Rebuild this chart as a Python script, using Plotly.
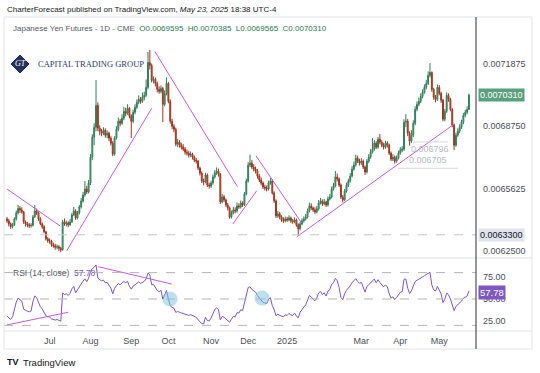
import plotly.graph_objects as go
import pandas as pd

# ---------------- data (prices in units of 1e-6, e.g. 6400 -> 0.006400) ----------------
SCALE = 1e-6
lead_closes = [6500, 6470, 6485, 6455, 6440, 6460, 6450, 6425, 6440, 6435, 6410, 6420, 6430, 6405, 6415, 6410]
first_open = 6410
closes = [
 6400,6385,6372,6380,6410,6440,6462,6455,6445,6395,
 6385,6380,6375,6378,6420,6450,6440,6410,6385,6370,
 6345,6310,6300,6298,6280,6275,6268,6270,6262,6255,
 6395,6385,6390,6380,6395,6430,6450,6415,6440,6470,
 6500,6530,6560,6545,6590,6720,6820,6870,6980,6865,
 6850,6840,6855,6830,6840,6815,6790,6735,6815,6860,
 6900,6890,6915,6950,6940,6965,6925,6900,6945,6970,
 6995,7010,7000,7020,7030,7070,7195,7180,7105,7110,
 7090,7060,7050,7065,6985,7040,7090,7000,6900,6875,
 6860,6785,6795,6780,6770,6760,6745,6740,6730,6735,
 6720,6705,6700,6665,6640,6600,6595,6630,6580,6575,
 6590,6620,6640,6650,6635,6495,6520,6505,6480,6465,
 6420,6440,6455,6450,6475,6470,6490,6480,6535,6600,
 6680,6690,6670,6660,6650,6625,6605,6590,6570,6565,
 6560,6590,6600,6540,6500,6425,6435,6420,6405,6400,
 6410,6405,6415,6400,6395,6405,6380,6360,6385,6400,
 6410,6420,6450,6475,6465,6455,6445,6460,6490,6500,
 6485,6495,6480,6510,6520,6560,6575,6620,6610,6580,
 6520,6505,6550,6580,6600,6625,6660,6680,6715,6700,
 6690,6700,6670,6645,6700,6720,6745,6760,6790,6770,
 6810,6795,6780,6770,6790,6780,6740,6710,6720,6700,
 6715,6740,6755,6760,6895,6900,6840,6800,6830,6890,
 6960,6985,7000,7025,7045,7070,7090,7130,7145,7060,
 7020,7010,7070,7040,7005,6910,6950,7030,7010,6960,
 6880,6780,6830,6850,6870,6895,6930,6945,6959.5,7031]
highs = [
 6420,6410,6392,6390,6418,6452,6480,6475,6468,6450,
 6402,6395,6390,6388,6430,6478,6462,6448,6418,6392,
 6378,6350,6318,6312,6305,6290,6285,6282,6278,6270,
 6405,6412,6402,6398,6410,6440,6470,6458,6450,6480,
 6515,6545,6600,6575,6605,6735,6835,6890,7107,6995,
 6880,6862,6870,6865,6855,6848,6825,6800,6825,6875,
 6918,6912,6935,6972,6968,6985,6972,6935,6958,6985,
 7010,7030,7022,7045,7048,7110,7248,7258,7190,7125,
 7120,7098,7075,7080,7072,7055,7120,7098,7010,6912,
 6885,6868,6812,6805,6792,6785,6770,6758,6752,6748,
 6742,6728,6715,6705,6672,6648,6612,6642,6638,6592,
 6602,6632,6655,6668,6662,6640,6535,6530,6512,6490,
 6472,6452,6470,6468,6492,6488,6502,6498,6545,6612,
 6695,6732,6705,6685,6672,6660,6635,6618,6598,6582,
 6578,6602,6615,6608,6548,6508,6450,6445,6428,6418,
 6422,6420,6428,6422,6410,6418,6412,6388,6395,6412,
 6422,6435,6462,6492,6488,6472,6468,6475,6505,6515,
 6508,6510,6502,6522,6535,6572,6590,6650,6638,6618,
 6588,6530,6560,6592,6612,6640,6675,6698,6732,6728,
 6712,6715,6708,6678,6710,6735,6760,6816,6805,6800,
 6822,6836,6805,6792,6802,6800,6788,6748,6735,6728,
 6728,6752,6770,6775,6910,6935,6912,6850,6855,6905,
 6975,7000,7018,7040,7060,7085,7108,7150,7192,7150,
 7068,7032,7085,7082,7048,7012,6962,7045,7040,7018,
 6965,6888,6842,6865,6885,6908,6942,6958,6975,7038.5]
lows = [
 6390,6372,6360,6362,6375,6402,6432,6440,6436,6385,
 6372,6368,6365,6366,6372,6415,6430,6400,6378,6360,
 6338,6302,6290,6285,6270,6265,6255,6258,6250,6243,
 6250,6375,6372,6368,6375,6390,6425,6405,6408,6432,
 6462,6492,6522,6535,6538,6580,6705,6780,6850,6850,
 6830,6825,6830,6818,6815,6800,6778,6725,6728,6808,
 6850,6875,6882,6905,6925,6932,6915,6816,6890,6935,
 6960,6985,6988,6992,7005,7022,7060,7160,7095,7090,
 7075,7045,7038,7040,6896,6975,7030,6990,6888,6860,
 6845,6775,6770,6768,6758,6750,6732,6728,6718,6720,
 6708,6695,6688,6655,6628,6590,6578,6588,6570,6562,
 6565,6582,6612,6630,6622,6485,6488,6495,6470,6452,
 6410,6412,6432,6438,6442,6460,6462,6470,6475,6528,
 6592,6670,6660,6648,6638,6612,6595,6578,6560,6552,
 6548,6552,6582,6532,6490,6415,6415,6408,6395,6390,
 6392,6395,6398,6390,6385,6388,6370,6330,6352,6378,
 6392,6402,6412,6442,6455,6445,6435,6438,6452,6482,
 6475,6478,6470,6472,6502,6512,6552,6568,6598,6570,
 6510,6492,6498,6542,6570,6592,6618,6652,6672,6690,
 6678,6680,6660,6630,6638,6690,6712,6738,6752,6760,
 6762,6785,6770,6758,6762,6768,6730,6700,6700,6688,
 6692,6708,6732,6745,6752,6870,6825,6778,6790,6820,
 6880,6950,6975,6992,7015,7038,7060,7082,7120,7048,
 7008,6995,7002,7030,6992,6900,6900,6942,6998,6950,
 6870,6756,6772,6822,6840,6862,6885,6920,6935,6956.5]

start_date = "2024-05-28"
end_date = "2025-05-23"
holidays = ["2024-06-19", "2024-07-04", "2024-09-02", "2024-11-28", "2024-12-25",
            "2025-01-01", "2025-01-20", "2025-02-17", "2025-04-18"]
month_keys = ["2024-07", "2024-08", "2024-09", "2024-10", "2024-11", "2024-12",
              "2025-01", "2025-03", "2025-04", "2025-05"]
month_labels = ["Jul", "Aug", "Sep", "Oct", "Nov", "Dec", "2025", "Mar", "Apr", "May"]

price_ticks = [0.0071875, 0.0068750, 0.0065625, 0.0062500]
rsi_ticks = [25, 50, 75]
rsi_levels = [80, 50, 20]
rsi_len = 14

# drawings: (bar0, price0, bar1, price1), prices in 1e-6 units
price_trendlines = [(0, 6560, 28.7, 6374), (32.2, 6250, 78.0, 6965), (79.8, 7249, 124.2, 6572),
                    (121.7, 6384, 134.6, 6551), (134.2, 6727, 158.9, 6388), (156.2, 6320, 240.3, 6881)]
rsi_trendlines = [(0, 20.5, 33, 34.9), (49.2, 86.7, 88.8, 67.0)]
rsi_mark_bars = [87.9, 137.5]
rsi_mark_vals = [50, 51]
support_level = 6330
level_lines = [(218.9, 237.7, 6796), (210.8, 243.1, 6664)]
level_texts = [(228, 6796, "0.006796", "top"), (227, 6705, "0.006705", "middle")]
last_close_label = "0.0070310"
support_label = "0.0063300"
rsi_last_value = 57.78

# ---------------- derived ----------------
dates = [d for d in pd.bdate_range(start_date, end_date) if d.strftime("%Y-%m-%d") not in holidays]
n = len(closes)
bars = list(range(n))
opens = [first_open] + closes[:-1]
tickvals = []
for key in month_keys:
    tickvals.append(next(i for i, d in enumerate(dates) if d.strftime("%Y-%m") == key))

allc = lead_closes + closes
gains, losses = [], []
for k in range(1, len(allc)):
    d = allc[k] - allc[k - 1]
    gains.append(max(d, 0)); losses.append(max(-d, 0))
ag = sum(gains[:rsi_len]) / rsi_len
al = sum(losses[:rsi_len]) / rsi_len
rsi_all = [None] * len(allc)
rsi_all[rsi_len] = 100 - 100 / (1 + ag / al) if al else 100
for k in range(rsi_len + 1, len(allc)):
    ag = (ag * (rsi_len - 1) + gains[k - 1]) / rsi_len
    al = (al * (rsi_len - 1) + losses[k - 1]) / rsi_len
    rsi_all[k] = 100 - 100 / (1 + ag / al) if al else 100
rsi = rsi_all[len(lead_closes):]

# ---------------- layout geometry (pixels) ----------------
W, H = 540, 373
L, R, T, B = 4, 476, 17, 331
PANE_SPLIT = 258


def px(xp):
    return (xp - L) / (R - L)


def py(yp):
    return (B - yp) / (B - T)


split = py(PANE_SPLIT)
FONT = "Liberation Sans, Arial, sans-serif"
PURPLE = "#c25ed8"

fig = go.Figure()
fig.add_trace(go.Candlestick(
    x=bars, open=[v * SCALE for v in opens], high=[v * SCALE for v in highs],
    low=[v * SCALE for v in lows], close=[v * SCALE for v in closes],
    increasing=dict(line=dict(color="#2f7d57", width=1), fillcolor="#7dba9b"),
    decreasing=dict(line=dict(color="#9e3320", width=1), fillcolor="#e8694e"),
    whiskerwidth=0, xaxis="x", yaxis="y", showlegend=False, hoverinfo="skip"))

tx, ty = [], []
for b0, p0, b1, p1 in price_trendlines:
    tx += [b0, b1, None]; ty += [p0 * SCALE, p1 * SCALE, None]
fig.add_trace(go.Scatter(x=tx, y=ty, mode="lines", line=dict(color=PURPLE, width=1),
                         xaxis="x", yaxis="y", showlegend=False, hoverinfo="skip"))

lx, ly = [], []
for b0, b1, p in level_lines:
    lx += [b0, b1, None]; ly += [p * SCALE, p * SCALE, None]
fig.add_trace(go.Scatter(x=lx, y=ly, mode="lines", line=dict(color="#d6d8de", width=1),
                         xaxis="x", yaxis="y", showlegend=False, hoverinfo="skip"))

fig.add_trace(go.Scatter(x=bars, y=rsi, mode="lines", line=dict(color="#7e57c2", width=1),
                         xaxis="x2", yaxis="y2", showlegend=False, hoverinfo="skip"))
rx, ry = [], []
for b0, v0, b1, v1 in rsi_trendlines:
    rx += [b0, b1, None]; ry += [v0, v1, None]
fig.add_trace(go.Scatter(x=rx, y=ry, mode="lines", line=dict(color=PURPLE, width=1),
                         xaxis="x2", yaxis="y2", showlegend=False, hoverinfo="skip"))
fig.add_trace(go.Scatter(x=rsi_mark_bars, y=rsi_mark_vals, mode="markers",
                         marker=dict(size=15, color="rgba(120,195,225,0.5)", line=dict(width=0)),
                         xaxis="x2", yaxis="y2", showlegend=False, hoverinfo="skip"))

xr = [-1.6, 252.8]
shapes = []
shapes.append(dict(type="line", xref="paper", yref="y", x0=0, x1=1, y0=support_level * SCALE,
                   y1=support_level * SCALE, line=dict(color="#c3c6ce", width=1, dash="dash")))
for lv in rsi_levels:
    shapes.append(dict(type="line", xref="paper", yref="y2", x0=0, x1=1, y0=lv, y1=lv,
                       line=dict(color="#b2b5be", width=1, dash="dash")))
shapes.append(dict(type="rect", xref="paper", yref="paper", x0=0, x1=px(532), y0=py(349), y1=1,
                   line=dict(color="#e0e3eb", width=1)))
shapes.append(dict(type="line", xref="paper", yref="paper", x0=0, x1=px(532), y0=split, y1=split,
                   line=dict(color="#e0e3eb", width=1)))
shapes.append(dict(type="line", xref="paper", yref="paper", x0=0, x1=px(532), y0=0, y1=0,
                   line=dict(color="#e0e3eb", width=1)))
shapes.append(dict(type="line", xref="paper", yref="paper", x0=1, x1=1, y0=py(349), y1=1,
                   line=dict(color="#2a2e39", width=1)))
dpath = "M {},{} L {},{} L {},{} L {},{} Z".format(px(11), py(64), px(20), py(55), px(29), py(64), px(20), py(73))
shapes.append(dict(type="path", xref="paper", yref="paper", path=dpath, fillcolor="#24325f",
                   line=dict(color="#24325f", width=1)))

ann = []
def A(x, y, text, size=9, color="#131722", xanchor="left", yanchor="middle", xref="paper", yref="paper", **kw):
    d = dict(x=x, y=y, xref=xref, yref=yref, text=text, showarrow=False, xanchor=xanchor,
             yanchor=yanchor, font=dict(size=size, color=color, family=kw.pop("family", FONT)))
    d.update(kw)
    ann.append(d)

A(px(5), py(10), "CharterForecast published on TradingView.com, <i>May 23, 2025</i> 18:38 UTC-4", size=8)
A(px(11), py(28), "Japanese Yen Futures - 1D - CME  <span style='color:#1f7a55'>O0.0069595  H0.0070385  L0.0069565  C0.0070310</span>",
  size=8, color="#555b66")
A(px(20), py(64), "<i>GT</i>", size=8, color="#ffffff", xanchor="center", family="Liberation Serif, serif")
A(px(36), py(64), "CAPITAL TRADING GROUP", size=8.5, color="#2d3b6b", family="Liberation Serif, serif")
A(px(11), py(273), "RSI (14, close)  <span style='color:#7e57c2'>%.2f</span>" % rsi_last_value, size=8.5, color="#555b66")
for b, p, t, ya in level_texts:
    A(b, p * SCALE, t, size=9, color="#b8bbc4", xanchor="center", yanchor=ya, xref="x", yref="y")
A(1, closes[-1] * SCALE, last_close_label, size=9, color="#ffffff", xshift=2, yref="y",
  bgcolor="#58a07e", borderpad=1)
A(1, support_level * SCALE, support_label, size=9, color="#131722", xshift=2, yref="y",
  bgcolor="#e0e3eb", borderpad=1)
A(1, rsi_last_value, "%.2f" % rsi_last_value, size=9.5, color="#ffffff", xshift=2, yref="y2",
  bgcolor="#7e57c2", borderpad=1)
A(px(5), py(362), "<b>TV</b>", size=9, color="#131722")
A(px(21), py(362), "TradingView", size=9.5, color="#131722")

fig.update_layout(
    width=W, height=H, paper_bgcolor="white", plot_bgcolor="white",
    margin=dict(l=L, r=W - R, t=T, b=H - B), showlegend=False,
    xaxis=dict(domain=[0, 1], anchor="y", range=xr, showticklabels=False, showgrid=False,
               zeroline=False, rangeslider=dict(visible=False), fixedrange=True),
    xaxis2=dict(domain=[0, 1], anchor="y2", matches="x", range=xr, tickvals=tickvals, ticktext=month_labels,
                showgrid=False, zeroline=False, ticks="", tickfont=dict(size=9, color="#4a4f5a", family=FONT),
                ticklabelstandoff=3),
    yaxis=dict(domain=[split, 1], anchor="x", side="right", range=[0.0062136, 0.0074234],
               tickvals=price_ticks, ticktext=["%.7f" % v for v in price_ticks], showgrid=False,
               zeroline=False, ticks="", ticklabelstandoff=6,
               tickfont=dict(size=9, color="#4a4f5a", family=FONT)),
    yaxis2=dict(domain=[0, split], anchor="x2", side="right", range=[13.6, 96.6],
                tickvals=rsi_ticks, ticktext=["%.2f" % v for v in rsi_ticks], showgrid=False,
                zeroline=False, ticks="", ticklabelstandoff=6,
                tickfont=dict(size=9, color="#4a4f5a", family=FONT)),
    shapes=shapes, annotations=ann,
)
fig.write_html("out.html", config={"displayModeBar": False, "staticPlot": True},
               post_script="document.body.style.margin='0';document.body.style.overflow='hidden';")
